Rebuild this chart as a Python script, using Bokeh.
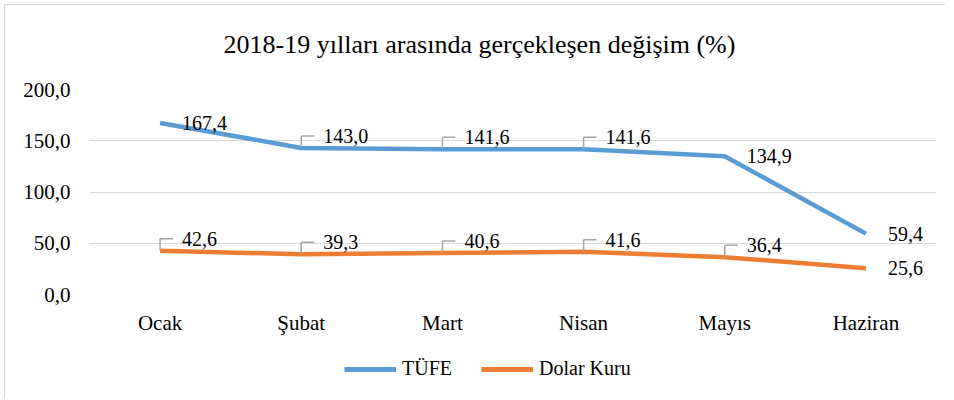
from bokeh.plotting import figure
from bokeh.layouts import column
from bokeh.models import (ColumnDataSource, FactorRange, Range1d, FixedTicker,
                          CustomJSTickFormatter, Legend, LegendItem, Label)
from bokeh.transform import dodge
from bokeh.embed import file_html
from bokeh.resources import INLINE

# ---- data ----
months = ["Ocak", "Şubat", "Mart", "Nisan", "Mayıs", "Haziran"]
tufe = [167.4, 143.0, 141.6, 141.6, 134.9, 59.4]
dolar = [42.6, 39.3, 40.6, 41.6, 36.4, 25.6]
tufe_callout = [False, True, True, True, False, False]
dolar_callout = [True, True, True, True, True, False]
y_ticks = [0, 50, 100, 150, 200]
title_text = "2018-19 yılları arasında gerçekleşen değişim (%)"
series_names = ["TÜFE", "Dolar Kuru"]

BLUE = "#5B9BD5"
ORANGE = "#ED7D31"
FONT = "Liberation Serif"
TXT = "#000000"
LW = 4.5
W = 945
FW = 847

def clear(fig):
    fig.outline_line_color = None
    fig.border_fill_alpha = 0
    fig.background_fill_color = None

# ---- title strip ----
TH = 60
tf = figure(width=W, height=TH, output_backend="svg", toolbar_location=None,
            x_axis_type=None, y_axis_type=None, min_border=0,
            x_range=Range1d(0, FW), y_range=Range1d(0, TH))
clear(tf)
tf.xgrid.grid_line_color = None
tf.ygrid.grid_line_color = None
tf.add_layout(Label(x=390, y=TH - 44, text=title_text, text_align="center",
                    text_baseline="middle", text_font=FONT,
                    text_font_size="26px", text_color=TXT))

# ---- main chart ----
p = figure(frame_width=FW, frame_height=205, output_backend="svg",
           toolbar_location=None,
           x_range=FactorRange(*months, range_padding=0),
           y_range=Range1d(0, 200),
           min_border_left=89, min_border_right=9, min_border_top=29,
           min_border_bottom=50)
clear(p)

p.yaxis.ticker = FixedTicker(ticks=y_ticks)
p.yaxis.formatter = CustomJSTickFormatter(code="return tick.toFixed(1).replace('.', ',');")
for ax in (p.xaxis[0], p.yaxis[0]):
    ax.axis_line_color = None
    ax.major_tick_line_color = None
    ax.minor_tick_line_color = None
    ax.major_tick_out = 0
    ax.major_tick_in = 0
    ax.major_label_text_font = FONT
    ax.major_label_text_font_size = "21px"
    ax.major_label_text_color = TXT
p.yaxis.major_label_standoff = 19
p.xaxis.major_label_standoff = 16
p.xgrid.grid_line_color = None
p.ygrid.grid_line_color = "#D9D9D9"
p.ygrid.grid_line_width = 1
p.ygrid.ticker = FixedTicker(ticks=y_ticks)

RISE_PX = 12
RUN_PX = 13
rise = RISE_PX * 200 / 205.0
run = RUN_PX / (FW / 6.0)

def series(vals, callouts, color):
    src = ColumnDataSource(dict(
        x=months, y=vals,
        lab=[f"{v:.1f}".replace(".", ",") for v in vals],
        dy=[-RISE_PX if c else 0 for c in callouts],
    ))
    p.line("x", "y", source=src, line_color=color, line_width=LW,
           line_join="round")
    cx = [m for m, c in zip(months, callouts) if c]
    cy = [v for v, c in zip(vals, callouts) if c]
    csrc = ColumnDataSource(dict(x=cx, y=cy, top=[v + rise for v in cy]))
    p.segment(x0="x", y0="y", x1="x", y1="top", source=csrc,
              line_color="#A5A5A5", line_width=1.5)
    p.segment(x0="x", y0="top", x1=dodge("x", run, range=p.x_range), y1="top",
              source=csrc, line_color="#A5A5A5", line_width=1.5)
    p.text(x="x", y="y", text="lab", source=src, x_offset=22, y_offset="dy",
           text_align="left", text_baseline="middle",
           text_font={"value": FONT}, text_font_size="20px", text_color=TXT)

series(tufe, tufe_callout, BLUE)
series(dolar, dolar_callout, ORANGE)

# ---- legend strip below the chart ----
LH = 54
lf = figure(width=W, height=LH, output_backend="svg", toolbar_location=None,
            x_axis_type=None, y_axis_type=None, min_border=0,
            x_range=Range1d(0, 1), y_range=Range1d(0, 1))
clear(lf)
lf.xgrid.grid_line_color = None
lf.ygrid.grid_line_color = None
nan = float("nan")
lr1 = lf.line(x=[nan, nan], y=[nan, nan], line_color=BLUE, line_width=LW + 0.5)
lr2 = lf.line(x=[nan, nan], y=[nan, nan], line_color=ORANGE, line_width=LW + 0.5)
legend = Legend(items=[LegendItem(label=series_names[0], renderers=[lr1]),
                       LegendItem(label=series_names[1], renderers=[lr2])],
                orientation="horizontal", location=(255, 18),
                label_text_font=FONT, label_text_font_size="20px",
                label_text_color=TXT, glyph_width=52, glyph_height=20,
                label_standoff=6, spacing=29, padding=0, margin=0,
                border_line_color=None, background_fill_alpha=0)
lf.add_layout(legend, "center")

layout = column(tf, p, lf, spacing=0)
layout.styles = {
    "background-color": "white",
    "background-image": "linear-gradient(#D9D9D9, #D9D9D9), linear-gradient(#D9D9D9, #D9D9D9)",
    "background-size": "1px 100%, 100% 1px",
    "background-position": "4px 4px, 4px 4px",
    "background-repeat": "no-repeat",
}
open("out.html", "w").write(file_html(layout, INLINE))
